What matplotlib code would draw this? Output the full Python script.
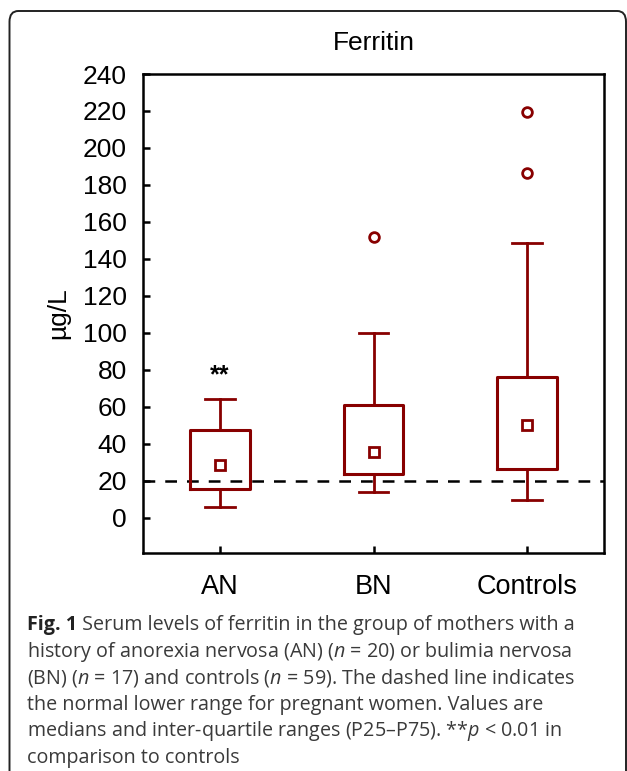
import matplotlib
matplotlib.use("Agg")
import matplotlib.pyplot as plt
from matplotlib.patches import FancyBboxPatch

# ---------------- data ----------------
categories = ["AN", "BN", "Controls"]
q1 = [15.5, 23.6, 26.3]
q3 = [47.4, 61.0, 76.0]
medians = [28.5, 35.7, 50.0]
whisk_lo = [5.8, 13.7, 9.6]
whisk_hi = [64.2, 100.0, 148.5]
outliers = [[], [151.7], [186.5, 219.6]]
reference_level = 20
sig_marks = ["**", "", ""]
yticks = list(range(0, 241, 20))

title = "Ferritin"
ylabel = "µg/L"
caption_head = "Fig. 1"
caption_lines = [
    r" Serum levels of ferritin in the group of mothers with a",
    r"history of anorexia nervosa (AN) ($n$ = 20) or bulimia nervosa",
    r"(BN) ($n$ = 17) and controls ($n$ = 59). The dashed line indicates",
    r"the normal lower range for pregnant women. Values are",
    r"medians and inter-quartile ranges (P25–P75). **$p$ < 0.01 in",
    r"comparison to controls",
]

# ---------------- style ----------------
W, H, DPI = 627, 771, 100
RED = "#880000"
plt.rcParams["font.family"] = ["Liberation Sans", "DejaVu Sans"]
plt.rcParams["mathtext.fontset"] = "custom"
plt.rcParams["mathtext.rm"] = "Open Sans"
plt.rcParams["mathtext.it"] = "Open Sans:italic"
plt.rcParams["mathtext.bf"] = "Open Sans:bold"

fig = plt.figure(figsize=(W / DPI, H / DPI), dpi=DPI)

def px(x, y):
    return x / W, 1 - y / H

# axes placement (pixels)
L, R, T, B = 143, 604, 74, 552.7
ax = fig.add_axes([L / W, 1 - B / H, (R - L) / W, (B - T) / H])

positions = list(range(1, len(categories) + 1))
stats = []
for i in range(len(categories)):
    stats.append(dict(med=medians[i], q1=q1[i], q3=q3[i],
                      whislo=whisk_lo[i], whishi=whisk_hi[i],
                      fliers=outliers[i], label=categories[i]))

ax.axhline(reference_level, color="black", lw=1.8, ls=(0, (4.7, 4.0)), zorder=1)

ax.bxp(stats, positions=positions, widths=0.39, capwidths=0.195,
       showfliers=True, patch_artist=False,
       boxprops=dict(color=RED, lw=2.2),
       whiskerprops=dict(color=RED, lw=2.0),
       capprops=dict(color=RED, lw=2.0),
       medianprops=dict(visible=False),
       flierprops=dict(marker="o", markersize=7.0, markerfacecolor="white",
                       markeredgecolor=RED, markeredgewidth=2.0, linestyle="none"),
       zorder=3)
ax.plot(positions, medians, linestyle="none", marker="s", markersize=7.5,
        markerfacecolor="white", markeredgecolor=RED, markeredgewidth=2.0, zorder=4)

for p, m in zip(positions, sig_marks):
    if m:
        ax.text(p, 73, m, ha="center", va="baseline", fontsize=18,
                fontweight="bold", color="black")

ax.set_xlim(0.5, 3.5)
ax.set_ylim(-19, 240)
ax.set_yticks(yticks)
ax.set_xticks(positions)
ax.set_xticklabels(categories)
ax.tick_params(axis="both", direction="in", length=5, width=1.8)
ax.tick_params(axis="y", pad=11.5, labelsize=19)
ax.tick_params(axis="x", pad=15, labelsize=19.5)
for s in ax.spines.values():
    s.set_linewidth(1.8)
ax.set_title(title, fontsize=19, pad=17)
ax.set_ylabel(ylabel, fontsize=19)
ax.yaxis.set_label_coords(-0.158, 0.5)

# border frame (clipped on right/bottom as in the reference)
frame = FancyBboxPatch((9.5 / W, 1 - 790 / H),
                       616.5 / W, (790 - 11) / H,
                       boxstyle="round,pad=0,rounding_size=0.014",
                       transform=fig.transFigure, facecolor="none",
                       edgecolor="#222222", lw=1.4, clip_on=False)
fig.patches.append(frame)

# caption
y0 = 625
dy = 26.6
CAP_FS = 14.2
CAP_COLOR = "#3a3a3a"
fig.canvas.draw()
renderer = fig.canvas.get_renderer()
hx, hy = px(27, y0)
head = fig.text(hx, hy, caption_head, fontsize=CAP_FS, color="#222222",
                family="Open Sans", fontweight="bold", ha="left", va="center")
bb = head.get_window_extent(renderer)
for i, line in enumerate(caption_lines):
    x, y = px(27, y0 + i * dy)
    if i == 0:
        x = (bb.x1) / W
    fig.text(x, y, line, fontsize=CAP_FS, color=CAP_COLOR, family="Open Sans",
             ha="left", va="center")

fig.savefig("out.png", dpi=DPI)
